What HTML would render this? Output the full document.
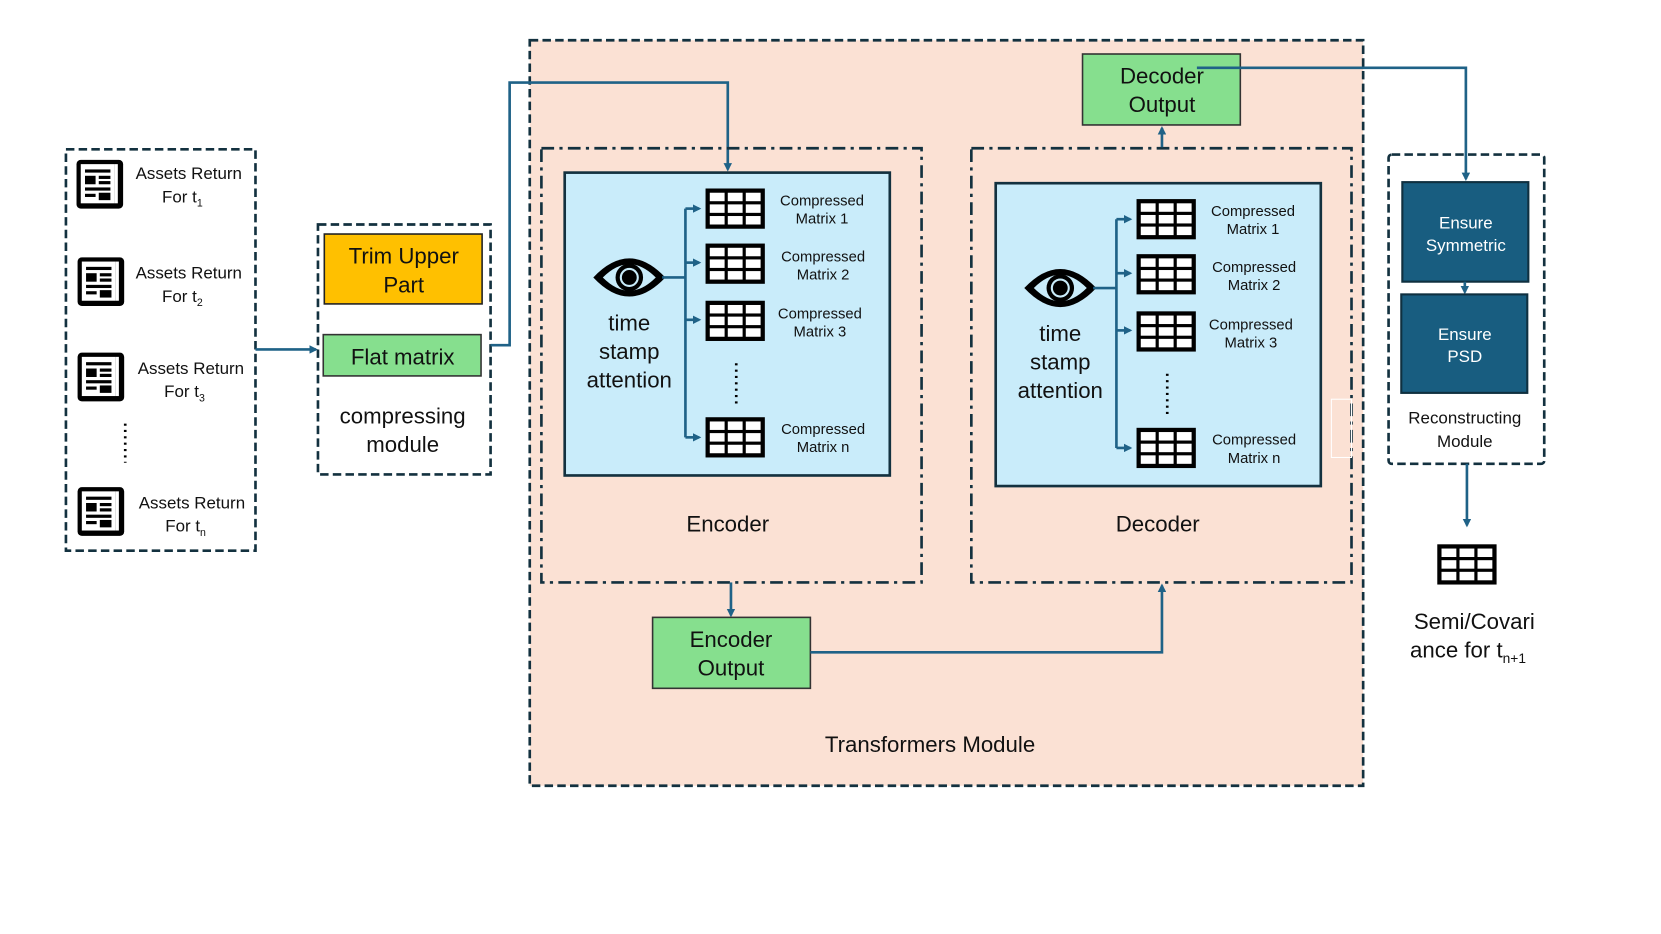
<!DOCTYPE html>
<html><head><meta charset="utf-8"><style>
html,body{margin:0;padding:0;background:#fff;}
svg{display:block;}
text{font-family:"Liberation Sans",sans-serif;fill:#111;}
</style></head><body>
<svg width="1661" height="934" viewBox="0 0 1568 882" xmlns="http://www.w3.org/2000/svg">
<defs>
<marker id="ar" markerWidth="8" markerHeight="8" refX="6" refY="4" orient="auto" markerUnits="userSpaceOnUse">
<path d="M0,0 L8,4 L0,8 z" fill="#1f6287"/></marker>
<g id="news">
<rect x="4" y="2" width="44" height="46" rx="4" fill="#000"/>
<rect x="8" y="6" width="32" height="37" fill="#fff"/>
<rect x="40" y="6" width="3" height="37" fill="#fff"/>
<rect x="12" y="11" width="24" height="3" fill="#000"/>
<rect x="12" y="17" width="10" height="8" fill="#000"/>
<rect x="25" y="17" width="11" height="3" fill="#000"/>
<rect x="25" y="22" width="11" height="3" fill="#000"/>
<rect x="12" y="28" width="24" height="3" fill="#000"/>
<rect x="12" y="34" width="10" height="3" fill="#000"/>
<rect x="25" y="33" width="11" height="7" fill="#000"/>
</g>
<g id="grid">
<rect x="0" y="0" width="56" height="38" fill="#000"/>
<rect x="4" y="4" width="14" height="8" fill="#fff"/><rect x="21" y="4" width="14" height="8" fill="#fff"/><rect x="38" y="4" width="14" height="8" fill="#fff"/>
<rect x="4" y="15" width="14" height="8" fill="#fff"/><rect x="21" y="15" width="14" height="8" fill="#fff"/><rect x="38" y="15" width="14" height="8" fill="#fff"/>
<rect x="4" y="26" width="14" height="8" fill="#fff"/><rect x="21" y="26" width="14" height="8" fill="#fff"/><rect x="38" y="26" width="14" height="8" fill="#fff"/>
</g>
<g id="eye">
<path d="M-34,0 Q0,-36 34,0 Q0,36 -34,0 z" fill="#000"/>
<path d="M-25,0 Q0,-25 25,0 Q0,25 -25,0 z" fill="#c9ecfa"/>
<circle r="13" fill="#000"/><circle r="9" fill="#c9ecfa"/><circle r="7" fill="#000"/>
</g>
<g id="block">
<rect x="0" y="0" width="307" height="286" fill="#c9ecfa" stroke="#13313f" stroke-width="2.5"/>
<use href="#eye" x="61" y="99"/>
<text x="61" y="149" font-size="21" text-anchor="middle">time</text>
<text x="61" y="176" font-size="21" text-anchor="middle">stamp</text>
<text x="61" y="203" font-size="21" text-anchor="middle">attention</text>
<g stroke="#1f6287" stroke-width="2.5" fill="none">
<path d="M92,99 H114"/><path d="M114,34 V250"/>
<path d="M114,34 H127" marker-end="url(#ar)"/><path d="M114,85 H127" marker-end="url(#ar)"/>
<path d="M114,139 H127" marker-end="url(#ar)"/><path d="M114,250 H127" marker-end="url(#ar)"/>
</g>
<use href="#grid" x="133" y="15"/><use href="#grid" x="133" y="67"/><use href="#grid" x="133" y="121"/><use href="#grid" x="133" y="231"/>
<g font-size="14" text-anchor="middle">
<text x="243" y="31">Compressed</text><text x="243" y="48">Matrix 1</text>
<text x="244" y="84">Compressed</text><text x="244" y="101">Matrix 2</text>
<text x="241" y="138">Compressed</text><text x="241" y="155">Matrix 3</text>
<text x="244" y="247">Compressed</text><text x="244" y="264">Matrix n</text>
</g>
<path d="M162,180 V218" stroke="#000" stroke-width="2.5" stroke-dasharray="2,4"/>
</g>
</defs>

<!-- left inputs -->
<rect x="62" y="141" width="179" height="379" fill="none" stroke="#13313f" stroke-width="2.5" stroke-dasharray="8,4"/>
<use href="#news" x="68" y="149"/><use href="#news" x="69" y="241"/><use href="#news" x="69" y="331"/><use href="#news" x="69" y="458"/>
<g font-size="16" text-anchor="middle">
<text x="178" y="169">Assets Return</text><text x="172" y="191">For t<tspan font-size="10" dy="4">1</tspan></text>
<text x="178" y="263">Assets Return</text><text x="172" y="285">For t<tspan font-size="10" dy="4">2</tspan></text>
<text x="180" y="353">Assets Return</text><text x="174" y="375">For t<tspan font-size="10" dy="4">3</tspan></text>
<text x="181" y="480">Assets Return</text><text x="175" y="502">For t<tspan font-size="10" dy="4">n</tspan></text>
</g>
<path d="M118,400 V437" stroke="#000" stroke-width="2.5" stroke-dasharray="2,4"/>
<path d="M241,330 H298" stroke="#1f6287" stroke-width="2.5" marker-end="url(#ar)"/>

<!-- compressing -->
<rect x="300" y="212" width="163" height="236" fill="none" stroke="#13313f" stroke-width="2.5" stroke-dasharray="8,4"/>
<rect x="306" y="221" width="149" height="66" fill="#ffc000" stroke="#222" stroke-width="1.5"/>
<text x="381" y="249" font-size="21" text-anchor="middle">Trim Upper</text>
<text x="381" y="276" font-size="21" text-anchor="middle">Part</text>
<rect x="305" y="316" width="149" height="39" fill="#86df8e" stroke="#333" stroke-width="1.5"/>
<text x="380" y="344" font-size="21" text-anchor="middle">Flat matrix</text>
<text x="380" y="400" font-size="21" text-anchor="middle">compressing</text>
<text x="380" y="427" font-size="21" text-anchor="middle">module</text>

<!-- transformer -->
<rect x="500" y="38" width="787" height="704" fill="#fbe1d4" stroke="#13313f" stroke-width="2.5" stroke-dasharray="8,4"/>
<path d="M463,326 H481 V78 H687 V160" fill="none" stroke="#1f6287" stroke-width="2.5" marker-end="url(#ar)"/>
<rect x="511" y="140" width="359" height="410" fill="none" stroke="#13313f" stroke-width="2.5" stroke-dasharray="12,5,3,5"/>
<rect x="917" y="140" width="359" height="410" fill="none" stroke="#13313f" stroke-width="2.5" stroke-dasharray="12,5,3,5"/>
<use href="#block" x="533" y="163"/>
<use href="#block" x="940" y="173"/>
<text x="687" y="502" font-size="21" text-anchor="middle">Encoder</text>
<text x="1093" y="502" font-size="21" text-anchor="middle">Decoder</text>
<rect x="1257" y="377" width="19" height="55" fill="none" stroke="#fff" stroke-width="1"/>

<rect x="1022" y="51" width="149" height="67" fill="#86df8e" stroke="#333" stroke-width="1.5"/>
<text x="1097" y="79" font-size="21" text-anchor="middle">Decoder</text>
<text x="1097" y="106" font-size="21" text-anchor="middle">Output</text>
<path d="M1097,139 V121" stroke="#1f6287" stroke-width="2.5" marker-end="url(#ar)"/>
<path d="M1130,64 H1384 V169" fill="none" stroke="#1f6287" stroke-width="2.5" marker-end="url(#ar)"/>

<path d="M690,550 V581" stroke="#1f6287" stroke-width="2.5" marker-end="url(#ar)"/>
<rect x="616" y="583" width="149" height="67" fill="#86df8e" stroke="#333" stroke-width="1.5"/>
<text x="690" y="611" font-size="21" text-anchor="middle">Encoder</text>
<text x="690" y="638" font-size="21" text-anchor="middle">Output</text>
<path d="M765,616 H1097 V553" fill="none" stroke="#1f6287" stroke-width="2.5" marker-end="url(#ar)"/>
<text x="878" y="710" font-size="21" text-anchor="middle">Transformers Module</text>

<!-- reconstruct -->
<rect x="1311" y="146" width="147" height="292" rx="3" fill="none" stroke="#13313f" stroke-width="2.5" stroke-dasharray="8,4"/>
<rect x="1324" y="172" width="119" height="94" fill="#185d80" stroke="#0f3040" stroke-width="2"/>
<text x="1384" y="216" font-size="16" text-anchor="middle" style="fill:#fff">Ensure</text>
<text x="1384" y="237" font-size="16" text-anchor="middle" style="fill:#fff">Symmetric</text>
<path d="M1383,266 V276" stroke="#1f6287" stroke-width="2.5" marker-end="url(#ar)"/>
<rect x="1323" y="278" width="119" height="93" fill="#185d80" stroke="#0f3040" stroke-width="2"/>
<text x="1383" y="321" font-size="16" text-anchor="middle" style="fill:#fff">Ensure</text>
<text x="1383" y="342" font-size="16" text-anchor="middle" style="fill:#fff">PSD</text>
<text x="1383" y="400" font-size="16" text-anchor="middle">Reconstructing</text>
<text x="1383" y="422" font-size="16" text-anchor="middle">Module</text>
<path d="M1385,438 V496" stroke="#1f6287" stroke-width="2.5" marker-end="url(#ar)"/>
<use href="#grid" x="1357" y="514"/>
<text x="1392" y="594" font-size="21" text-anchor="middle">Semi/Covari</text>
<text x="1386" y="621" font-size="21" text-anchor="middle">ance for t<tspan font-size="13" dy="5">n+1</tspan></text>
</svg>
</body></html>
